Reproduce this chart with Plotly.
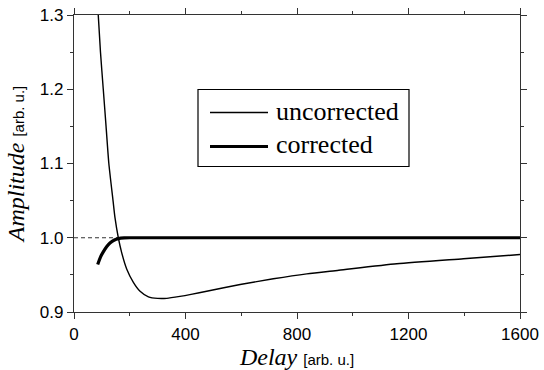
import plotly.graph_objects as go

# uncorrected curve
unc_delay = [87, 95, 105, 115, 125, 140, 147, 159, 171, 189, 213, 237, 267, 300, 333, 380, 420, 476, 596, 715, 835, 950, 1158, 1397, 1600]
unc_amp = [1.30, 1.25, 1.20, 1.15, 1.10, 1.05, 1.027, 1.00, 0.980, 0.958, 0.940, 0.928, 0.9205, 0.9183, 0.9184, 0.921, 0.9237, 0.928, 0.937, 0.9447, 0.9514, 0.9562, 0.9649, 0.9717, 0.9774]

# corrected curve
cor_delay = [85, 95, 105, 117, 129, 145, 159, 180, 200, 400, 800, 1200, 1600]
cor_amp = [0.964, 0.974, 0.981, 0.988, 0.993, 0.997, 0.9988, 0.9998, 1.0, 1.0, 1.0, 1.0, 1.0]

# reference level
ref_delay = [0, 1600]
ref_amp = [1.0, 1.0]

x_ticks = [0, 400, 800, 1200, 1600]
y_ticks = [0.9, 1.0, 1.1, 1.2, 1.3]

SERIF = "Liberation Serif"
SANS = "Liberation Sans"

fig = go.Figure()
fig.add_trace(go.Scatter(x=ref_delay, y=ref_amp, mode="lines",
                         line=dict(color="#333333", width=1, dash="4px,3px"), showlegend=False))
fig.add_trace(go.Scatter(x=unc_delay, y=unc_amp, mode="lines", name="uncorrected",
                         line=dict(color="black", width=1.4, shape="spline", smoothing=0.6), showlegend=False))
fig.add_trace(go.Scatter(x=cor_delay, y=cor_amp, mode="lines", name="corrected",
                         line=dict(color="black", width=3.2, shape="spline", smoothing=0.6), showlegend=False))

axis_common = dict(showline=True, linecolor="#333333", linewidth=1.3, mirror="allticks",
                   ticks="outside", ticklen=6, tickwidth=1.3, tickcolor="#333333",
                   showgrid=False, zeroline=False, automargin=False,
                   tickfont=dict(family=SANS, size=17, color="black"))

fig.update_xaxes(range=[0, 1600], tickvals=x_ticks, ticktext=[str(v) for v in x_ticks],
                 minor=dict(dtick=200, ticks="outside", ticklen=3, tickwidth=1.2, tickcolor="#333333"),
                 title=dict(text=f"<i>Delay</i> <span style='font-family:{SANS};font-size:15px'>[arb. u.]</span>",
                            font=dict(family=SERIF, size=24, color="black"), standoff=1),
                 **axis_common)
fig.update_yaxes(range=[0.9, 1.3], tickvals=y_ticks, ticktext=[f"{v:.1f}" for v in y_ticks],
                 minor=dict(dtick=0.05, ticks="outside", ticklen=3, tickwidth=1.2, tickcolor="#333333"),
                 title=dict(text=f"<i>Amplitude</i> <span style='font-family:{SANS};font-size:15px'>[arb. u.]</span>",
                            font=dict(family=SERIF, size=24, color="black"), standoff=8),
                 **axis_common)

# legend box drawn manually
def px_x(p):
    return (p - 74) / 446

def px_y(p):
    return (312.5 - p) / 297

shapes = [
    dict(type="rect", xref="paper", yref="paper", x0=px_x(198), x1=px_x(409),
         y0=px_y(167), y1=px_y(90), line=dict(color="black", width=1.2), fillcolor="white", layer="above"),
    dict(type="line", xref="paper", yref="paper", x0=px_x(210), x1=px_x(268),
         y0=px_y(113), y1=px_y(113), line=dict(color="black", width=1.4), layer="above"),
    dict(type="line", xref="paper", yref="paper", x0=px_x(210), x1=px_x(268),
         y0=px_y(147), y1=px_y(147), line=dict(color="black", width=3.2), layer="above"),
]
annotations = [
    dict(text="uncorrected", xref="paper", yref="paper", x=px_x(274), y=px_y(112),
         xanchor="left", yanchor="middle", showarrow=False, font=dict(family=SERIF, size=26, color="black")),
    dict(text="corrected", xref="paper", yref="paper", x=px_x(274), y=px_y(145),
         xanchor="left", yanchor="middle", showarrow=False, font=dict(family=SERIF, size=26, color="black")),
]

fig.update_layout(width=544, height=370, margin=dict(l=74, r=24, t=15, b=58),
                  plot_bgcolor="white", paper_bgcolor="white",
                  shapes=shapes, annotations=annotations)

fig.write_html("out.html", config={"displayModeBar": False},
               post_script="document.body.style.margin='0';document.body.style.overflow='hidden';")
